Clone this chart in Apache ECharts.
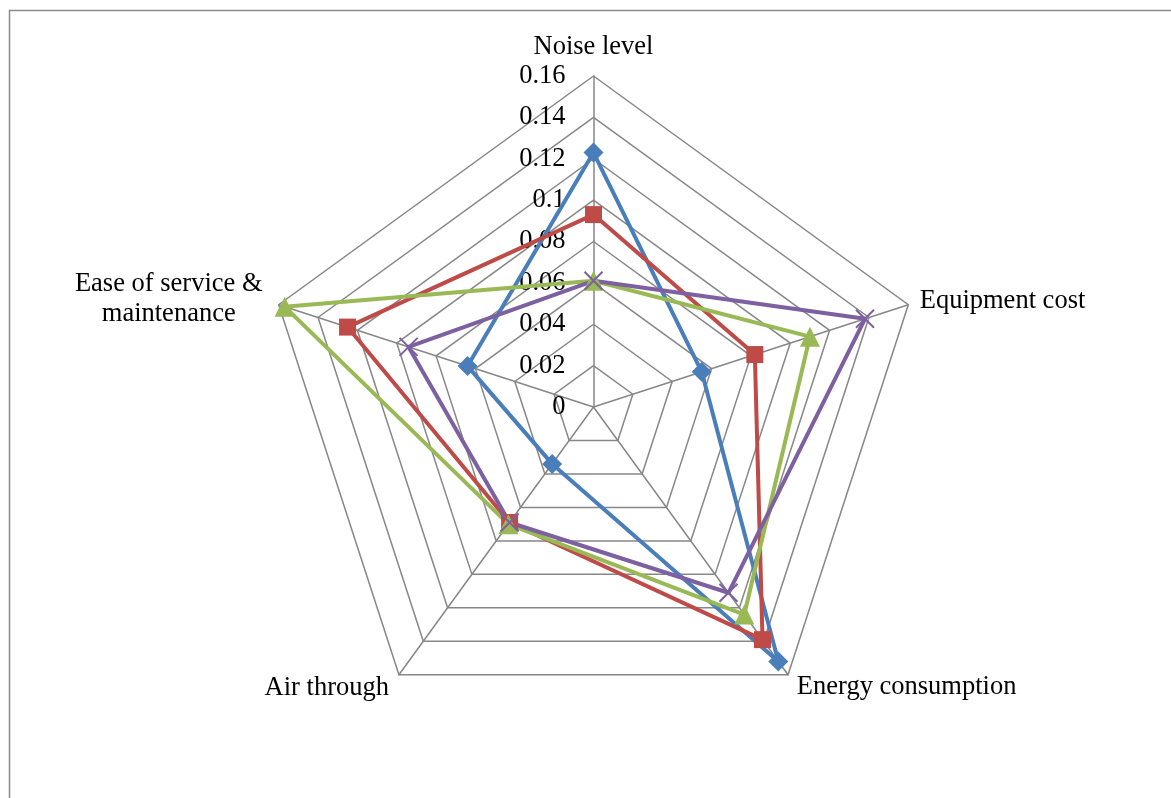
<!DOCTYPE html>
<html>
<head>
<meta charset="utf-8">
<script src="https://cdn.jsdelivr.net/npm/echarts@6/dist/echarts.min.js"></script>
<style>
  html, body { margin: 0; padding: 0; background: #fff; }
  #chart { width: 1171px; height: 798px; }
</style>
</head>
<body>
<div id="chart"></div>
<script>
// Criteria, listed clockwise starting from the top
const categories = ['Noise level', 'Equipment cost', 'Energy consumption', 'Air through', 'Ease of service &\nmaintenance'];
const axisMax = 0.16;
const axisStep = 0.02;

// Weight of each criterion for the four alternatives (same order as categories)
const blueValues   = [0.123, 0.055, 0.152, 0.034, 0.064];
const redValues    = [0.093, 0.082, 0.139, 0.069, 0.125];
const greenValues  = [0.061, 0.110, 0.124, 0.070, 0.157];
const purpleValues = [0.061, 0.138, 0.111, 0.069, 0.094];

// ECharts lays radar indicators out counter-clockwise, so keep the first one
// and reverse the rest to get a clockwise layout.
const order = [0, 4, 3, 2, 1];
const reorder = arr => order.map(i => arr[i]);

const FONT = '"Liberation Serif", "Times New Roman", serif';
const FONT_SIZE = 26.5;
const GRID = '#878787';

// distance of each criterion name from its axis end (clockwise order)
const nameGaps = [14, 12, 15, 17, 17];

const indicators = order.map((i, k) => {
  const ind = { name: categories[i], min: 0, max: axisMax, nameGap: nameGaps[i] };
  if (k === 0) {
    ind.axisLabel = {
      show: true, color: '#000', fontFamily: FONT, fontSize: FONT_SIZE,
      margin: 28, showMaxLabel: true, showMinLabel: true
    };
  }
  return ind;
});

const X_MARK = 'path://M0,0L10,10M10,0L0,10';

function makeSeries(name, values, color, symbol, size, extra) {
  return {
    name: name,
    type: 'radar',
    symbol: symbol,
    symbolSize: size,
    lineStyle: { color: color, width: 4 },
    itemStyle: Object.assign({ color: color }, extra || {}),
    areaStyle: null,
    data: [{ value: reorder(values) }],
    z: 3
  };
}

const chart = echarts.init(document.getElementById('chart'), null, { renderer: 'canvas' });
chart.setOption({
  animation: false,
  backgroundColor: '#fff',
  graphic: [{
    type: 'rect',
    shape: { x: 9.5, y: 10.5, width: 1300, height: 900 },
    style: { fill: null, stroke: '#8a8a8a', lineWidth: 1.5 },
    silent: true
  }],
  radar: {
    center: [593.5, 407],
    radius: 331,
    startAngle: 90,
    shape: 'polygon',
    splitNumber: Math.round(axisMax / axisStep),
    axisName: {
      color: '#000',
      fontFamily: FONT,
      fontSize: FONT_SIZE,
      formatter: function (v) {
        return v.split('\n').map(s => '{c|' + s + '}').join('\n');
      },
      rich: { c: { align: 'center', fontFamily: FONT, fontSize: FONT_SIZE, color: '#000', lineHeight: 30 } }
    },
    nameGap: 12,
    axisLine: { lineStyle: { color: GRID, width: 1.5 } },
    splitLine: { lineStyle: { color: GRID, width: 1.5 } },
    splitArea: { show: false },
    axisTick: { show: false },
    axisLabel: { show: false },
    indicator: indicators
  },
  series: [
    makeSeries('Alternative 1', blueValues, '#4a7ebb', 'diamond', 20),
    makeSeries('Alternative 2', redValues, '#be4b48', 'rect', 17),
    makeSeries('Alternative 3', greenValues, '#98b954', 'triangle', 20),
    makeSeries('Alternative 4', purpleValues, '#7d60a0', X_MARK, 18, { borderColor: '#7d60a0', borderWidth: 2 })
  ]
});
</script>
</body>
</html>
